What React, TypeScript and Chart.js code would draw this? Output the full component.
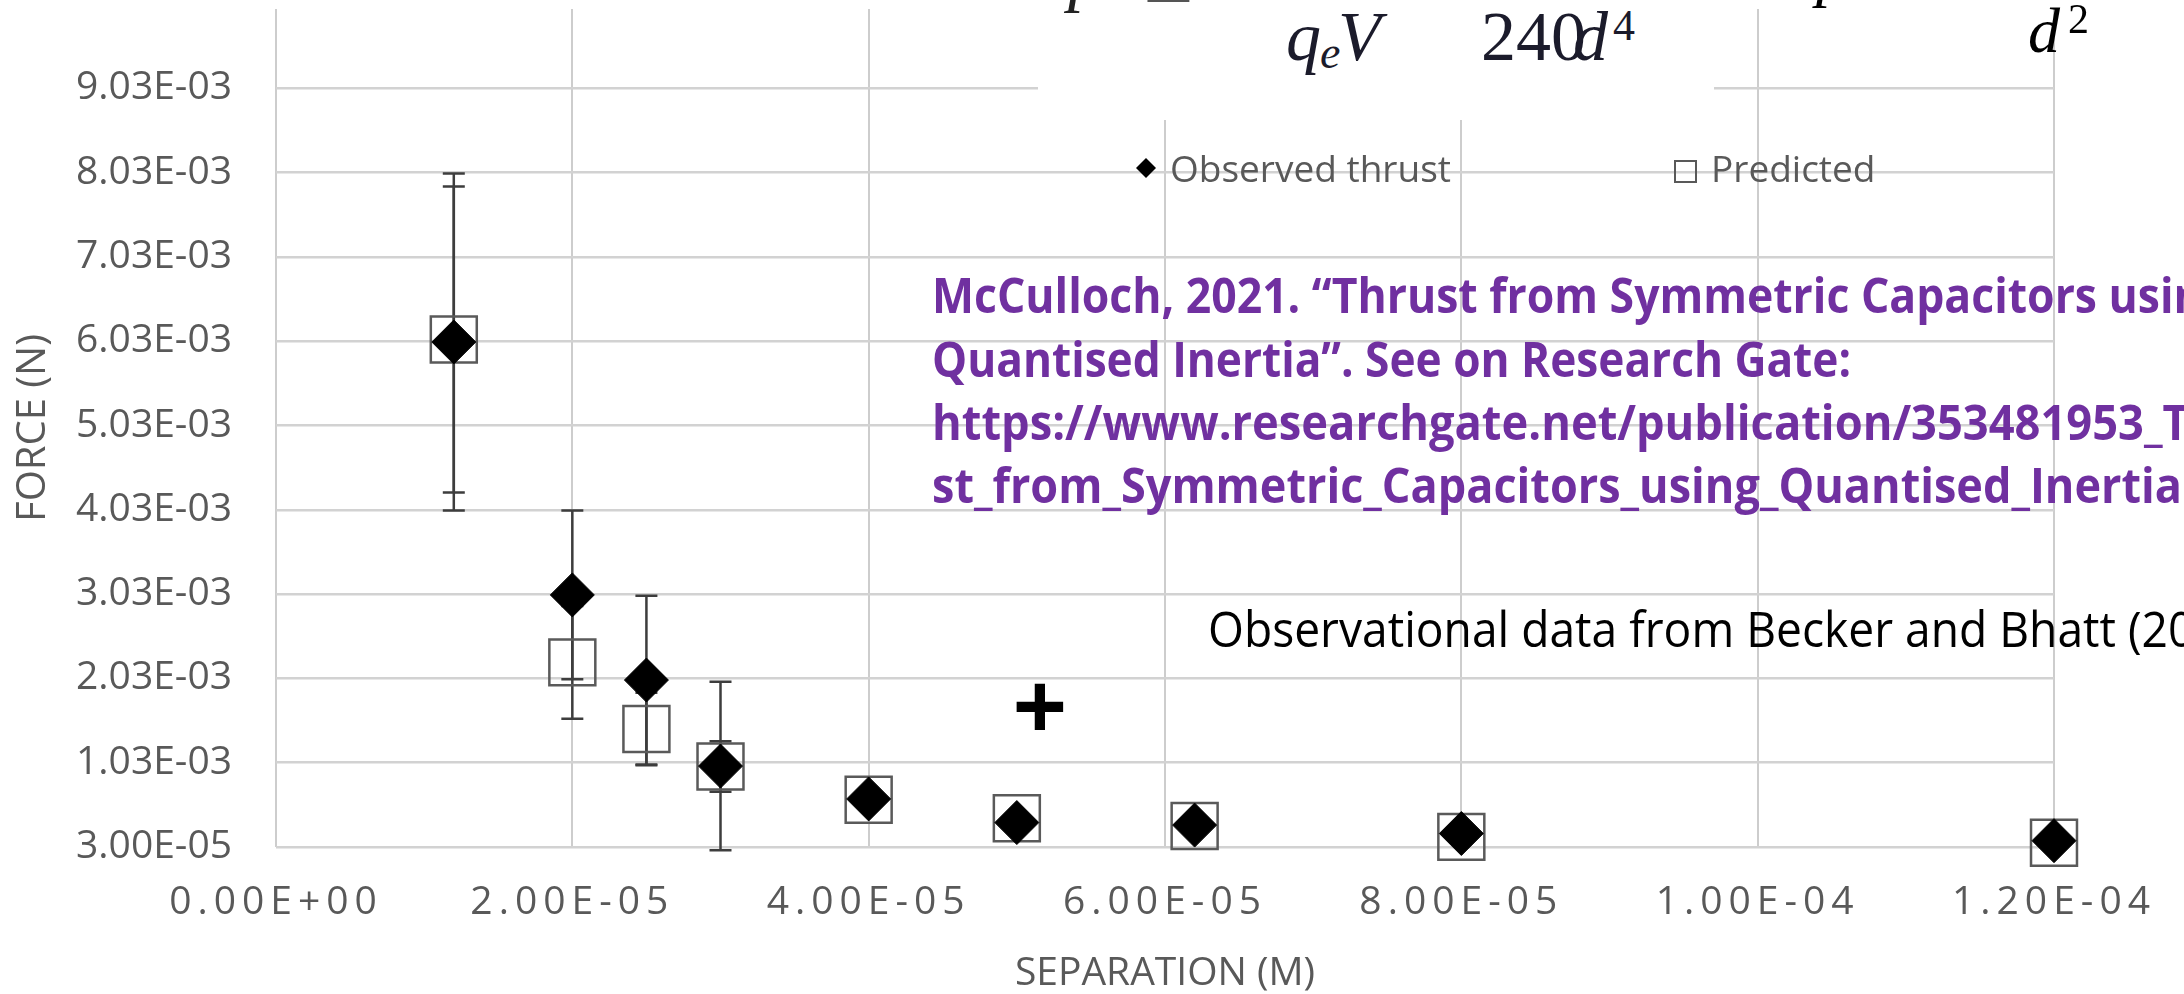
import React, { useEffect, useRef } from 'react';
import { Chart, registerables } from 'chart.js';

Chart.register(...registerables);

// ---------------- data ----------------
const separationM = [1.2e-5, 2.0e-5, 2.5e-5, 3.0e-5, 4.0e-5, 5.0e-5, 6.2e-5, 8.0e-5, 1.2e-4];
const observedThrustN = [6.02e-3, 3.02e-3, 2.01e-3, 0.99e-3, 0.6e-3, 0.32e-3, 0.29e-3, 0.19e-3, 0.105e-3];
const observedErrorN = [2.0e-3, 1.0e-3, 1.0e-3, 1.0e-3, 0, 0, 0, 0, 0];
const predictedThrustN = [6.05e-3, 2.22e-3, 1.43e-3, 0.985e-3, 0.59e-3, 0.37e-3, 0.28e-3, 0.15e-3, 0.08e-3];
const predictedErrorN = [1.815e-3, 0.67e-3, 0.43e-3, 0.3e-3, 0, 0, 0, 0, 0];
const forceTicks = [3.0e-5, 1.03e-3, 2.03e-3, 3.03e-3, 4.03e-3, 5.03e-3, 6.03e-3, 7.03e-3, 8.03e-3, 9.03e-3];
const separationTicks = [0, 2e-5, 4e-5, 6e-5, 8e-5, 1e-4, 1.2e-4];
const seriesLabels = ['Observed thrust', 'Predicted'];
const xAxisTitle = 'SEPARATION (M)';
const yAxisTitle = 'FORCE (N)';

// ---------------- layout / style ----------------
const W = 2184;
const H = 994;
const GRAY = '#595959';
const FONT = "'Open Sans', sans-serif";

function sci(v: number): string {
  const [m, e] = v.toExponential(2).split('e');
  const n = parseInt(e, 10);
  const sign = n < 0 ? '-' : '+';
  return `${m}E${sign}${String(Math.abs(n)).padStart(2, '0')}`;
}

const errorBars = {
  id: 'errorBars',
  beforeDatasetsDraw(chart: any) {
    const { ctx, scales } = chart;
    const xs = scales.x;
    const ys = scales.y;
    ctx.save();
    ctx.strokeStyle = '#3d3d3d';
    ctx.lineWidth = 2.5;
    chart.data.datasets.forEach((ds: any) => {
      const errs: number[] = ds.errorBars || [];
      ds.data.forEach((pt: any, i: number) => {
        const e = errs[i];
        if (!e) return;
        const px = xs.getPixelForValue(pt.x);
        const t = ys.getPixelForValue(pt.y + e);
        const b = ys.getPixelForValue(pt.y - e);
        const cap = 11;
        ctx.beginPath();
        ctx.moveTo(px, t);
        ctx.lineTo(px, b);
        ctx.moveTo(px - cap, t);
        ctx.lineTo(px + cap, t);
        ctx.moveTo(px - cap, b);
        ctx.lineTo(px + cap, b);
        ctx.stroke();
      });
    });
    ctx.restore();
  },
};

const overlayLegend = {
  id: 'overlayLegend',
  afterDatasetsDraw(chart: any) {
    const ctx = chart.ctx;
    const ds = chart.data.datasets;
    ctx.save();
    ctx.fillStyle = '#000';
    ctx.beginPath();
    ctx.moveTo(1146, 158);
    ctx.lineTo(1156, 168);
    ctx.lineTo(1146, 178);
    ctx.lineTo(1136, 168);
    ctx.closePath();
    ctx.fill();
    ctx.font = `37px ${FONT}`;
    ctx.fillStyle = GRAY;
    ctx.textBaseline = 'alphabetic';
    ctx.fillText(ds[0].label, 1170, 182);
    ctx.strokeStyle = GRAY;
    ctx.lineWidth = 2;
    ctx.strokeRect(1675, 161, 21, 21);
    ctx.fillText(ds[1].label, 1711, 182);
    ctx.restore();
  },
};

const xLetterSpacing = {
  id: 'xLetterSpacing',
  beforeDraw(chart: any) {
    const s: any = chart.scales.x;
    if (s && !s.__ls) {
      const orig = s.drawLabels;
      s.drawLabels = function (area: any) {
        const ctx: any = this.ctx;
        ctx.save();
        ctx.letterSpacing = '6px';
        orig.call(this, area);
        ctx.restore();
      };
      s.__ls = true;
    }
  },
};

// ---------------- text overlay helper ----------------
let measureCtx: CanvasRenderingContext2D | null = null;
function getCtx() {
  if (!measureCtx) measureCtx = document.createElement('canvas').getContext('2d');
  return measureCtx!;
}

type Lbl = {
  text: string;
  x: number;
  y: number;
  size: number;
  family: string;
  weight?: string;
  italic?: boolean;
  color: string;
  fitText?: string;
  fitWidth?: number;
  anchor?: 'baseline' | 'inkCenter';
  inkWidth?: number;
};

function Label(p: Lbl) {
  const weight = p.weight ?? 'normal';
  const style = p.italic ? 'italic' : 'normal';
  const mk = (s: number) => `${style} ${weight} ${s}px ${p.family}`;
  const ctx = getCtx();
  let size = p.size;
  if (p.inkWidth) {
    ctx.font = mk(100);
    const m0 = ctx.measureText(p.text);
    size = (100 * p.inkWidth) / (m0.actualBoundingBoxLeft + m0.actualBoundingBoxRight);
  }
  ctx.font = mk(size);
  const m = ctx.measureText(p.text);
  const A = m.fontBoundingBoxAscent;
  const D = m.fontBoundingBoxDescent;
  let sx = 1;
  if (p.fitText && p.fitWidth) sx = p.fitWidth / ctx.measureText(p.fitText).width;
  let left = p.x;
  let baseline = p.y;
  if (p.anchor === 'inkCenter') {
    left = p.x - (m.actualBoundingBoxRight - m.actualBoundingBoxLeft) / 2;
    baseline = p.y + (m.actualBoundingBoxAscent - m.actualBoundingBoxDescent) / 2;
  }
  return (
    <div
      style={{
        position: 'absolute',
        left,
        top: baseline - A,
        fontFamily: p.family,
        fontSize: size,
        fontWeight: weight as any,
        fontStyle: style,
        lineHeight: `${A + D}px`,
        height: A + D,
        whiteSpace: 'nowrap',
        color: p.color,
        transform: `scaleX(${sx})`,
        transformOrigin: '0 0',
      }}
    >
      {p.text}
    </div>
  );
}

const PURPLE = '#7030A0';
const SERIF = "'Liberation Serif', serif";

const overlayLabels: Lbl[] = [
  { text: 'McCulloch, 2021. “Thrust from Symmetric Capacitors using', x: 932, y: 313, size: 49, family: FONT, weight: 'bold', color: PURPLE, fitText: 'McCulloch, 2021. “Thrust from Symmetric Capacitors', fitWidth: 1165 },
  { text: 'Quantised Inertia”. See on Research Gate:', x: 932, y: 377, size: 49, family: FONT, weight: 'bold', color: PURPLE, fitText: 'Quantised Inertia”. See on Research Gate:', fitWidth: 919 },
  { text: 'https://www.researchgate.net/publication/353481953_Thru', x: 932, y: 440, size: 49, family: FONT, weight: 'bold', color: PURPLE, fitText: 'https://www.researchgate.net/publication/353481953', fitWidth: 1212 },
  { text: 'st_from_Symmetric_Capacitors_using_Quantised_Inertia', x: 932, y: 503, size: 49, family: FONT, weight: 'bold', color: PURPLE, fitText: 'st_from_Symmetric_Capacitors_using_Quantised_Inertia', fitWidth: 1250 },
  { text: 'Observational data from Becker and Bhatt (20', x: 1208, y: 647, size: 49, family: FONT, color: '#000', fitText: 'Observational data from Becker and Bhatt', fitWidth: 908 },
  { text: '+', x: 1040, y: 706, size: 96, family: FONT, weight: 'bold', color: '#000', anchor: 'inkCenter', inkWidth: 47 },
  // formula fragments at the top
  { text: 'p', x: 1068, y: -2, size: 70, family: SERIF, italic: true, color: '#222' },
  { text: '=', x: 1143, y: 21, size: 90, family: SERIF, color: '#555' },
  { text: 'q', x: 1286, y: 60, size: 70, family: SERIF, italic: true, color: '#1b1b2b' },
  { text: 'e', x: 1320, y: 68, size: 46, family: SERIF, italic: true, color: '#1b1b2b' },
  { text: 'V', x: 1338, y: 60, size: 70, family: SERIF, italic: true, color: '#1b1b2b' },
  { text: '240', x: 1481, y: 60, size: 70, family: SERIF, color: '#1b1b2b' },
  { text: 'd', x: 1573, y: 60, size: 70, family: SERIF, italic: true, color: '#1b1b2b' },
  { text: '4', x: 1613, y: 40, size: 44, family: SERIF, color: '#1b1b2b' },
  { text: 'p', x: 1816, y: -6, size: 64, family: SERIF, italic: true, color: '#000' },
  { text: 'd', x: 2028, y: 52, size: 64, family: SERIF, italic: true, color: '#000' },
  { text: '2', x: 2068, y: 33, size: 42, family: SERIF, color: '#000' },
];

export default function App() {
  const ref = useRef<HTMLCanvasElement>(null);

  useEffect(() => {
    const chart = new Chart(ref.current!, {
      type: 'scatter',
      data: {
        datasets: [
          {
            label: seriesLabels[0],
            data: separationM.map((x, i) => ({ x, y: observedThrustN[i] })),
            pointStyle: 'rectRot',
            pointRadius: 22,
            pointHoverRadius: 22,
            backgroundColor: '#000',
            borderColor: '#000',
            borderWidth: 1,
            clip: false,
            errorBars: observedErrorN,
          } as any,
          {
            label: seriesLabels[1],
            data: separationM.map((x, i) => ({ x, y: predictedThrustN[i] })),
            pointStyle: 'rect',
            pointRadius: 32.5,
            pointHoverRadius: 32.5,
            backgroundColor: 'rgba(0,0,0,0)',
            borderColor: '#5a5a5a',
            borderWidth: 2.5,
            clip: false,
            errorBars: predictedErrorN,
          } as any,
        ],
      },
      options: {
        responsive: false,
        animation: false,
        devicePixelRatio: 1,
        layout: { autoPadding: false, padding: { left: 0, right: 130, top: 9, bottom: 0 } },
        plugins: {
          legend: { display: false },
          tooltip: { enabled: false },
        },
        scales: {
          x: {
            type: 'linear',
            min: 0,
            max: 1.2e-4,
            afterBuildTicks: (s: any) => {
              s.ticks = separationTicks.map((v) => ({ value: v }));
            },
            afterFit: (s: any) => {
              s.height = 147;
              s.paddingLeft = 0;
              s.paddingRight = 0;
            },
            grid: { color: '#cdcdcd', lineWidth: 2, drawTicks: false },
            border: { display: false },
            ticks: {
              callback: (v: any) => sci(Number(v)),
              color: GRAY,
              font: { family: FONT, size: 39 },
              padding: 32,
              maxRotation: 0,
              autoSkip: false,
            },
            title: {
              display: true,
              text: xAxisTitle,
              color: GRAY,
              font: { family: FONT, size: 39, lineHeight: 1 },
              padding: { top: 0, bottom: 1 },
            },
          },
          y: {
            type: 'linear',
            min: 3e-5,
            max: 9.97e-3,
            afterBuildTicks: (s: any) => {
              s.ticks = forceTicks.map((v) => ({ value: v }));
            },
            afterFit: (s: any) => {
              s.width = 276;
              s.paddingTop = 0;
              s.paddingBottom = 0;
            },
            grid: { color: '#d2d2d2', lineWidth: 2.5, drawTicks: false },
            border: { display: false },
            ticks: {
              callback: (v: any) => sci(Number(v)),
              color: GRAY,
              font: { family: FONT, size: 39 },
              padding: 44,
              autoSkip: false,
            },
            title: {
              display: true,
              text: yAxisTitle,
              color: GRAY,
              font: { family: FONT, size: 40 },
              padding: { top: 10, bottom: 0 },
            },
          },
        },
      } as any,
      plugins: [errorBars, overlayLegend, xLetterSpacing],
    });
    return () => chart.destroy();
  }, []);

  return (
    <div
      style={{
        position: 'fixed',
        left: 0,
        top: 0,
        width: W,
        height: H,
        overflow: 'hidden',
        background: '#fff',
      }}
    >
      <canvas
        ref={ref}
        width={W}
        height={H}
        style={{ position: 'absolute', left: 0, top: 0, width: W, height: H }}
      />
      <div style={{ position: 'absolute', left: 1038, top: 0, width: 676, height: 120, background: '#fff' }} />
      {overlayLabels.map((l, i) => (
        <Label key={i} {...l} />
      ))}
    </div>
  );
}
